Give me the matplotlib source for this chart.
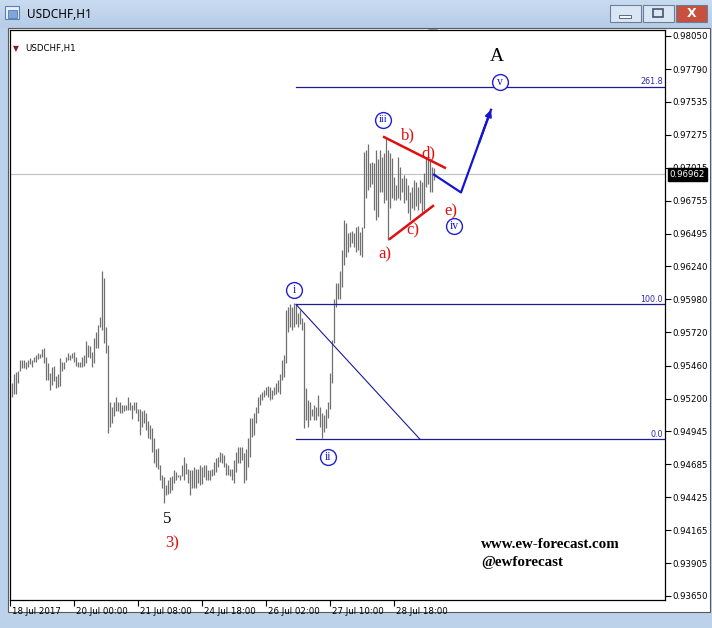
import matplotlib
matplotlib.use('Agg')
import matplotlib.pyplot as plt
import numpy as np
from matplotlib.patches import Rectangle, Polygon
import matplotlib.transforms as mtransforms

# ---------------- data ----------------
highs = [
    0.9532, 0.9539, 0.9541, 0.9542, 0.9550, 0.9550, 0.9550, 0.9549, 0.9550, 0.9552,
    0.9550, 0.9553, 0.9554, 0.9556, 0.9555, 0.9559, 0.9560, 0.9553, 0.9548, 0.9540,
    0.9545, 0.9546, 0.9538, 0.9539, 0.9552, 0.9549, 0.9549, 0.9553, 0.9556, 0.9554,
    0.9556, 0.9557, 0.9553, 0.9549, 0.9549, 0.9553, 0.9554, 0.9565, 0.9562, 0.9561,
    0.9557, 0.9568, 0.9572, 0.9578, 0.9584, 0.9620, 0.9615, 0.9576,
    0.9562, 0.9517, 0.9513, 0.9517, 0.9521, 0.9517, 0.9517, 0.9515, 0.9515, 0.9515,
    0.9521, 0.9517, 0.9515, 0.9517, 0.9517, 0.9512, 0.9512, 0.9510, 0.9511, 0.9509,
    0.9502, 0.9499, 0.9497, 0.9489, 0.9480, 0.9481, 0.9468, 0.9460, 0.9458, 0.9452,
    0.9456, 0.9458, 0.9459, 0.9464, 0.9462, 0.9460, 0.9460, 0.9468, 0.9474, 0.9469,
    0.9465, 0.9464, 0.9464, 0.9466, 0.9465, 0.9465, 0.9468, 0.9466, 0.9468, 0.9468,
    0.9464, 0.9464, 0.9465, 0.9470, 0.9473, 0.9474, 0.9478, 0.9477, 0.9476, 0.9469,
    0.9468, 0.9465, 0.9465, 0.9472, 0.9478, 0.9482, 0.9482, 0.9482, 0.9477, 0.9480,
    0.9489, 0.9505, 0.9505, 0.9509, 0.9513, 0.9521,
    0.9524, 0.9525, 0.9527, 0.9529, 0.9530, 0.9529, 0.9527, 0.9529, 0.9532, 0.9535,
    0.9539, 0.9550, 0.9554, 0.9590, 0.9592, 0.9594, 0.9592, 0.9595, 0.9594, 0.9587, 0.9590, 0.9583,
    0.9580, 0.9528, 0.9519, 0.9517, 0.9512, 0.9515, 0.9513, 0.9523, 0.9513, 0.9509,
    0.9507, 0.9512, 0.9517, 0.9540, 0.9566, 0.9598,
    0.9611, 0.9611, 0.9620, 0.9637, 0.9660, 0.9658, 0.9650, 0.9651, 0.9652, 0.9650,
    0.9655, 0.9656, 0.9651, 0.9655, 0.9714, 0.9715, 0.9720, 0.9705, 0.9706, 0.9705,
    0.9715, 0.9708, 0.9715, 0.9710, 0.9713, 0.9725, 0.9715, 0.9713, 0.9709, 0.9694,
    0.9688, 0.9710, 0.9702, 0.9693, 0.9696, 0.9693, 0.9688, 0.9682, 0.9686, 0.9692,
    0.9690, 0.9686, 0.9692, 0.9690, 0.9697, 0.9710, 0.9708, 0.9708, 0.9702, 0.9701,
]
lows = [
    0.9521, 0.9524, 0.9524, 0.9532, 0.9542, 0.9544, 0.9544, 0.9543, 0.9545, 0.9547,
    0.9545, 0.9549, 0.9549, 0.9551, 0.9552, 0.9553, 0.9548, 0.9535, 0.9535, 0.9527,
    0.9531, 0.9534, 0.9528, 0.9529, 0.9530, 0.9542, 0.9543, 0.9549, 0.9550, 0.9550,
    0.9552, 0.9549, 0.9546, 0.9545, 0.9545, 0.9545, 0.9546, 0.9548, 0.9553, 0.9552,
    0.9545, 0.9548, 0.9560, 0.9560, 0.9576, 0.9574, 0.9564, 0.9556,
    0.9493, 0.9498, 0.9501, 0.9506, 0.9510, 0.9510, 0.9509, 0.9509, 0.9510, 0.9511,
    0.9511, 0.9511, 0.9504, 0.9511, 0.9509, 0.9502, 0.9491, 0.9498, 0.9501, 0.9495,
    0.9489, 0.9488, 0.9478, 0.9469, 0.9466, 0.9465, 0.9456, 0.9450, 0.9438, 0.9444,
    0.9445, 0.9446, 0.9448, 0.9454, 0.9456, 0.9458, 0.9456, 0.9459, 0.9456, 0.9461,
    0.9454, 0.9444, 0.9450, 0.9450, 0.9450, 0.9454, 0.9452, 0.9453, 0.9458, 0.9456,
    0.9456, 0.9456, 0.9459, 0.9460, 0.9462, 0.9466, 0.9470, 0.9469, 0.9466, 0.9460,
    0.9460, 0.9459, 0.9456, 0.9454, 0.9462, 0.9469, 0.9469, 0.9472, 0.9454, 0.9456,
    0.9466, 0.9474, 0.9490, 0.9491, 0.9501, 0.9509,
    0.9515, 0.9519, 0.9521, 0.9523, 0.9521, 0.9519, 0.9520, 0.9523, 0.9524, 0.9525,
    0.9524, 0.9535, 0.9537, 0.9548, 0.9572, 0.9576, 0.9574, 0.9576, 0.9579, 0.9576, 0.9579, 0.9574,
    0.9497, 0.9503, 0.9498, 0.9503, 0.9506, 0.9503, 0.9503, 0.9506, 0.9498, 0.9489,
    0.9494, 0.9497, 0.9505, 0.9512, 0.9532, 0.9564,
    0.9592, 0.9598, 0.9598, 0.9608, 0.9625, 0.9631, 0.9635, 0.9639, 0.9642, 0.9639,
    0.9635, 0.9637, 0.9633, 0.9631, 0.9654, 0.9678, 0.9684, 0.9686, 0.9689, 0.9668,
    0.9660, 0.9663, 0.9682, 0.9682, 0.9674, 0.9676, 0.9645, 0.9670, 0.9678, 0.9676,
    0.9676, 0.9678, 0.9676, 0.9682, 0.9674, 0.9676, 0.9666, 0.9660, 0.9670, 0.9668,
    0.9671, 0.9668, 0.9674, 0.9666, 0.9668, 0.9686, 0.9689, 0.9682, 0.9682, 0.9692,
]
last_price = 0.96962

price_ticks = [0.98050, 0.97790, 0.97535, 0.97275, 0.97015, 0.96755, 0.96495, 0.96240,
               0.95980, 0.95720, 0.95460, 0.95200, 0.94945, 0.94685, 0.94425, 0.94165,
               0.93905, 0.93650]
time_tick_bars = [-1, 31, 63, 95, 127, 159, 191]
time_tick_labels = ['18 Jul 2017', '20 Jul 00:00', '21 Jul 08:00', '24 Jul 18:00',
                    '26 Jul 02:00', '27 Jul 10:00', '28 Jul 18:00']

# Fibonacci levels (price) and anchor bars
fib_start_bar = 142
fib_levels = [0.9765, 0.9594, 0.9488]
fib_labels = ['261.8', '100.0', '0.0']
fib_diag = ([142, 204], [0.9594, 0.9488])

# Elliott wave annotations
circled = [('iii', 185.5, 0.9739), ('i', 141, 0.9605), ('ii', 158, 0.9474),
           ('iv', 221, 0.9656), ('v', 244, 0.9769)]
red_labels = [('b)', 198, 0.9727), ('d)', 208, 0.9713), ('a)', 186.5, 0.9633),
              ('c)', 200.5, 0.9652), ('e)', 219.5, 0.9667), ('3)', 80, 0.9406)]
black_labels = [('A', 242.5, 0.9789, 14), ('5', 77.5, 0.9425, 12)]
red_lines = [([185.5, 217], [0.9726, 0.9701]), ([188.5, 211], [0.9645, 0.9672])]
blue_path_x = [211, 224.5, 239.5]
blue_path_y = [0.9696, 0.9682, 0.9747]

# ---------------- figure ----------------
W, H = 712, 628
fig = plt.figure(figsize=(W / 100, H / 100), dpi=100)
fig.patch.set_facecolor('#bcd2ea')

bg = fig.add_axes([0, 0, 1, 1], zorder=0)
bg.set_xlim(0, W)
bg.set_ylim(H, 0)
bg.axis('off')
# title bar gradient
grad = np.linspace(0, 1, 28).reshape(-1, 1)
bg.imshow(grad, extent=(0, W, 28, 0), aspect='auto',
          cmap=matplotlib.colors.LinearSegmentedColormap.from_list('t', ['#c9dbf0', '#b6cce7']),
          zorder=0)
# client area
bg.add_patch(Rectangle((8, 28), 702, 584, facecolor='white', edgecolor='#5a5a5a', lw=0.8, zorder=1))
# icon
bg.add_patch(Rectangle((5, 6), 14, 13, facecolor='#e8f0fa', edgecolor='#5b7fb0', lw=0.8, zorder=2))
bg.add_patch(Rectangle((8, 10), 9, 8, facecolor='#7fa6d8', edgecolor='#3d6aa8', lw=0.5, zorder=3))
bg.text(27, 14, 'USDCHF,H1', fontsize=8.5, family='Noto Sans', va='center', ha='left', color='black', zorder=3)
# window buttons
for bx0, fc in [(610, '#dbe6f4'), (643, '#dbe6f4'), (676, '#c7503f')]:
    bg.add_patch(Rectangle((bx0, 5), 31, 17, facecolor=fc, edgecolor='#6b7f99', lw=0.8, zorder=2))
bg.add_patch(Rectangle((619, 15), 12, 3, facecolor='#f4f7fb', edgecolor='#44546a', lw=0.6, zorder=3))
bg.add_patch(Rectangle((653, 9), 10, 8, facecolor='none', edgecolor='#44546a', lw=1.2, zorder=3))
bg.text(691.5, 13.5, 'X', fontsize=9, fontweight='bold', color='white', ha='center', va='center', zorder=3)
# chart-shift marker
bg.add_patch(Polygon([[428, 29], [438, 29], [433, 36]], closed=True, facecolor='#a0a0a0',
                     edgecolor='none', zorder=3))

# ---------------- main chart ----------------
x0, x1, y0, y1 = 10, 665, 30, 600
ax = fig.add_axes([x0 / W, 1 - y1 / H, (x1 - x0) / W, (y1 - y0) / H], zorder=2)
ax.set_facecolor('white')
ax.set_xlim(-1.0, 326.5)
ax.set_ylim(0.93617, 0.98097)
for s in ax.spines.values():
    s.set_color('black')
    s.set_linewidth(0.9)

idx = np.arange(len(highs))
ax.vlines(idx, lows, highs, color='#707070', lw=0.9, zorder=2)

# current price line
ax.axhline(last_price, color='#c0c0c0', lw=0.8, zorder=1)

# fib levels
navy = '#1a1a9a'
for lvl, lab in zip(fib_levels, fib_labels):
    ax.plot([fib_start_bar, 326.5], [lvl, lvl], color=navy, lw=0.9, zorder=3)
    ax.text(325.5, lvl + 0.00004, lab, ha='right', va='bottom', fontsize=5.8,
            color='#2a2ab0', family='DejaVu Sans', zorder=4)
ax.plot(fib_diag[0], fib_diag[1], color=navy, lw=0.8, zorder=3)

# red triangle lines
for xs, ys in red_lines:
    ax.plot(xs, ys, color='#e01010', lw=1.8, zorder=4, solid_capstyle='butt')

# blue projected path with arrow (straight final leg)
blue = '#1515d0'
ax.plot(blue_path_x, blue_path_y, color=blue, lw=1.6, zorder=4)
frac = 0.6
sx = blue_path_x[-2] + frac * (blue_path_x[-1] - blue_path_x[-2])
sy = blue_path_y[-2] + frac * (blue_path_y[-1] - blue_path_y[-2])
ax.annotate('', xy=(blue_path_x[-1], blue_path_y[-1]), xytext=(sx, sy),
            arrowprops=dict(arrowstyle='-|>', color=blue, lw=1.6, mutation_scale=9,
                            shrinkA=0, shrinkB=0),
            zorder=5)

# circled wave labels
for t, bx, py in circled:
    ax.scatter([bx], [py], s=130, facecolor='white', edgecolor='#2020d0', linewidth=1.0, zorder=5)
    ax.text(bx, py, t, ha='center', va='center', fontsize=8.5 if len(t) < 3 else 7.5,
            color='#1a1ac8', family='Liberation Serif', zorder=6)

for t, bx, py in red_labels:
    ax.text(bx, py, t, ha='center', va='center', fontsize=12, color='#e01010',
            family='Liberation Serif', zorder=6)
for t, bx, py, fs in black_labels:
    ax.text(bx, py, t, ha='center', va='center', fontsize=fs, color='black',
            family='Liberation Serif', zorder=6)

ax.text(234.5, 0.9405, 'www.ew-forecast.com', ha='left', va='center', fontsize=10.8,
        fontweight='bold', family='Liberation Serif', color='black', zorder=6)
ax.text(234.5, 0.9391, '@ewforecast', ha='left', va='center', fontsize=10.8,
        fontweight='bold', family='Liberation Serif', color='black', zorder=6)

# top-left symbol label
blend = mtransforms.blended_transform_factory(ax.transAxes, ax.transData)
ax.text(0.004, 0.97955, '\u25BC', transform=blend,
        fontsize=5.5, color='#8b1a1a', ha='left', va='center', family='DejaVu Sans')
ax.text(0.023, 0.9795, 'USDCHF,H1', transform=blend,
        fontsize=6.2, color='black', ha='left', va='center', family='DejaVu Sans')

# y axis (right)
ax.yaxis.tick_right()
ax.set_yticks(price_ticks)
ax.set_yticklabels([f'{p:.5f}' for p in price_ticks], fontsize=6.2, family='DejaVu Sans')
ax.tick_params(axis='y', direction='out', length=4, width=0.8, pad=1.5, colors='black')

# x axis
ax.set_xticks(time_tick_bars)
ax.set_xticklabels(time_tick_labels, fontsize=6.2, family='DejaVu Sans')
ax.tick_params(axis='x', direction='out', length=4, width=0.8, pad=1.0)
off = mtransforms.ScaledTranslation(1.5 / 100, 0, fig.dpi_scale_trans)
for lab in ax.get_xticklabels():
    lab.set_horizontalalignment('left')
    lab.set_transform(lab.get_transform() + off)

# current price box
ax.annotate(f'{last_price:.5f}', xy=(1.0, last_price), xycoords=blend,
            xytext=(3.5, 0), textcoords='offset points', ha='left', va='center',
            fontsize=6.2, family='DejaVu Sans', color='white', zorder=10,
            annotation_clip=False,
            bbox=dict(boxstyle='square,pad=0.25', facecolor='black', edgecolor='black'))

fig.savefig('out.png', dpi=100, facecolor=fig.get_facecolor())
